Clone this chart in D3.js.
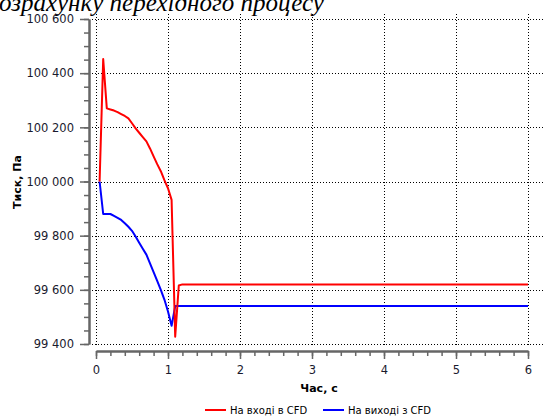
<!DOCTYPE html>
<html><head><meta charset="utf-8">
<script src="https://cdn.jsdelivr.net/npm/d3@7/dist/d3.min.js"></script>
<style>
html,body{margin:0;padding:0;background:#fff;overflow:hidden}
svg{display:block}
text{font-family:"DejaVu Sans",Verdana,sans-serif}
</style></head>
<body>
<svg id="chart" width="545" height="416"></svg>
<script>
// ---- data ----
const titleText = "озрахунку перехідного процесу";
const yTitle = "Тиск, Па";
const xTitle = "Час, с";
const seriesNames = ["На вході в CFD", "На виході з CFD"];
const seriesColors = ["#ff0000", "#0000ff"];
const yTicks = [99400, 99600, 99800, 100000, 100200, 100400, 100600];
const xTicks = [0, 1, 2, 3, 4, 5, 6];
const inletTime = [0.05, 0.1, 0.15, 0.2, 0.25, 0.3, 0.35, 0.4, 0.45, 0.5, 0.55, 0.6, 0.65, 0.7, 0.75, 0.8, 0.85, 0.9, 0.95, 1.0, 1.05, 1.1, 1.15, 1.2, 6];
const inletP = [100000, 100452, 100270, 100266, 100262, 100256, 100249, 100242, 100233, 100215, 100196, 100180, 100164, 100148, 100122, 100093, 100064, 100038, 100005, 99975, 99932, 99427, 99616, 99620, 99620];
const outletTime = [0.05, 0.1, 0.15, 0.2, 0.25, 0.3, 0.35, 0.4, 0.45, 0.5, 0.55, 0.6, 0.65, 0.7, 0.75, 0.8, 0.85, 0.9, 0.95, 1.0, 1.05, 1.1, 6];
const outletP = [100000, 99880, 99880, 99880, 99873, 99866, 99858, 99846, 99833, 99818, 99797, 99774, 99752, 99730, 99698, 99665, 99633, 99600, 99564, 99520, 99467, 99540, 99540];

const svg = d3.select("#chart");
const x = d3.scaleLinear().domain([0, 6]).range([96, 528]);
const y = d3.scaleLinear().domain([99400, 100600]).range([344, 19]);
const loc = d3.formatLocale({decimal: ",", thousands: " ", grouping: [3], currency: ["", ""]});
const fmt = loc.format(",d");

// title (cropped at top, as in the reference)
svg.append("text").attr("x", -1).attr("y", 11)
  .style("font-family", '"Liberation Serif","Times New Roman",serif')
  .style("font-style", "italic").style("font-size", "25px").attr("fill", "#000")
  .text(titleText);

// grid
const grid = svg.append("g").attr("stroke", "#000").attr("stroke-width", 1).attr("stroke-dasharray", "1,2").attr("fill", "none");
yTicks.forEach(v => {
  grid.append("line").attr("x1", 92).attr("x2", 545).attr("y1", Math.round(y(v)) + 0.5).attr("y2", Math.round(y(v)) + 0.5);
});
xTicks.forEach(v => {
  grid.append("line").attr("y1", 14).attr("y2", 346).attr("x1", Math.round(x(v)) + 0.5).attr("x2", Math.round(x(v)) + 0.5);
});

// y axis
const yMinor = d3.range(99400, 100601, 50);
const yAxisMinor = svg.append("g").attr("transform", "translate(89,0)")
  .call(d3.axisLeft(y).tickValues(yMinor).tickSize(5).tickSizeOuter(0).tickFormat(""));
const yAxis = svg.append("g").attr("transform", "translate(89,0)")
  .call(d3.axisLeft(y).tickValues(yTicks).tickSize(9).tickSizeOuter(0).tickPadding(6).tickFormat(fmt));
// x axis
const xMinor = d3.range(0, 6.001, 0.2);
const xAxisMinor = svg.append("g").attr("transform", "translate(0,351)")
  .call(d3.axisBottom(x).tickValues(xMinor).tickSize(5).tickSizeOuter(0).tickFormat(""));
const xAxis = svg.append("g").attr("transform", "translate(0,351)")
  .call(d3.axisBottom(x).tickValues(xTicks).tickSize(8).tickSizeOuter(0).tickPadding(7).tickFormat(d3.format("d")));

[yAxisMinor, yAxis, xAxisMinor, xAxis].forEach(g => {
  g.selectAll("path.domain").attr("stroke", "#666").attr("stroke-width", 2);
  g.selectAll(".tick line").attr("stroke", "#666").attr("stroke-width", 1.5);
  g.selectAll(".tick text").attr("fill", "#1a1a2e").style("font-size", "11.5px").style("font-family", '"DejaVu Sans",Verdana,sans-serif');
});

// axis titles
svg.append("text").attr("transform", "translate(21,182) rotate(-90)").attr("text-anchor", "middle")
  .style("font-size", "11px").style("font-weight", "bold").attr("fill", "#000").text(yTitle);
svg.append("text").attr("x", 319).attr("y", 392).attr("text-anchor", "middle")
  .style("font-size", "11px").style("font-weight", "bold").attr("fill", "#000").text(xTitle);

// lines
const line = d3.line().x(d => x(d[0])).y(d => y(d[1]));
const inlet = inletTime.map((t, i) => [t, inletP[i]]);
const outlet = outletTime.map((t, i) => [t, outletP[i]]);
svg.append("path").datum(outlet).attr("d", line).attr("fill", "none").attr("stroke", seriesColors[1]).attr("stroke-width", 2).attr("stroke-linejoin", "round");
svg.append("path").datum(inlet).attr("d", line).attr("fill", "none").attr("stroke", seriesColors[0]).attr("stroke-width", 2).attr("stroke-linejoin", "round");

// legend
const legendX = [205, 323];
seriesNames.forEach((name, i) => {
  const g = svg.append("g").attr("transform", `translate(${legendX[i]},410)`);
  g.append("line").attr("x1", 0).attr("x2", 21).attr("y1", 0).attr("y2", 0).attr("stroke", seriesColors[i]).attr("stroke-width", 2);
  g.append("text").attr("x", 25).attr("y", 0).attr("dy", "0.35em").style("font-size", "10px").attr("fill", "#000").text(name);
});
</script>
</body></html>
